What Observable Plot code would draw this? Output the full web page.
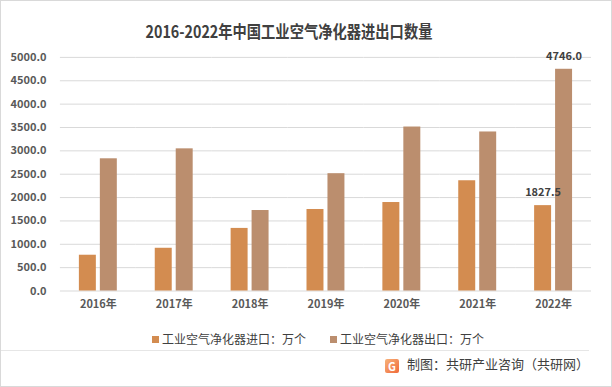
<!DOCTYPE html>
<html>
<head>
<meta charset="utf-8">
<script src="https://cdn.jsdelivr.net/npm/d3@7"></script>
<script src="https://cdn.jsdelivr.net/npm/@observablehq/plot@0.6"></script>
<style>
  html, body { margin: 0; padding: 0; background: #fff; }
  #wrap { position: relative; width: 612px; height: 387px; box-sizing: border-box; border: 1px solid #d9d9d9; overflow: hidden; font-family: "Noto Sans CJK SC", "Noto Sans", sans-serif; }
  #chart { position: absolute; left: -1px; top: -1px; }
  #title { position: absolute; left: 0; width: 576px; top: 17px; text-align: center; font-size: 17px; font-weight: bold; color: #404040; line-height: 26px; transform: scaleX(0.84); transform-origin: 288px 0; white-space: nowrap; }
  #legend { position: absolute; left: 0; width: 634px; top: 329px; text-align: center; font-size: 12px; color: #404040; line-height: 18px; white-space: nowrap; }
  .item { display: inline-block; margin: 0 12px; }
  .sw { display: inline-block; width: 7px; height: 7px; margin-right: 3px; vertical-align: 1px; }
  #sep { position: absolute; left: 0; width: 588px; top: 349px; border-top: 1px solid #e6e6e6; }
  #caption { position: absolute; right: 22px; top: 354px; font-size: 13px; color: #404040; line-height: 18px; white-space: nowrap; }
  .logo { display: inline-block; width: 14px; height: 14px; border-radius: 2px; background: linear-gradient(135deg, #f7b27a, #f06a3a); color: #fff; font-size: 11px; font-weight: bold; line-height: 14px; text-align: center; vertical-align: -2px; margin-right: 8px; }
</style>
</head>
<body>
<div id="wrap">
  <div id="chart"></div>
  <div id="title">2016-2022年中国工业空气净化器进出口数量</div>
  <div id="legend"></div>
  <div id="sep"></div>
  <div id="caption"><span class="logo">G</span>制图：共研产业咨询（共研网）</div>
</div>
<script>
const years = ["2016年", "2017年", "2018年", "2019年", "2020年", "2021年", "2022年"];
const seriesNames = ["工业空气净化器进口：万个", "工业空气净化器出口：万个"];
const importValues = [766, 915, 1340, 1745, 1894, 2360, 1827.5];
const exportValues = [2830, 3043, 1723, 2511, 3510, 3404, 4746.0];
const colors = ["#D38C50", "#BB8E6E"];
const yTicks = [0, 500, 1000, 1500, 2000, 2500, 3000, 3500, 4000, 4500, 5000];
const labeledYear = "2022年";

const data = [];
years.forEach((y, i) => {
  data.push({year: y, series: seriesNames[0], value: importValues[i]});
  data.push({year: y, series: seriesNames[1], value: exportValues[i]});
});
const labelData = data.filter(d => d.year === labeledYear);

const chart = Plot.plot({
  width: 612,
  height: 320,
  marginTop: 57,
  marginBottom: 29,
  marginLeft: 57,
  marginRight: 18,
  style: {fontFamily: '"Noto Sans CJK SC", "Noto Sans", sans-serif', background: "transparent"},
  fx: {domain: years, padding: 0, label: null, axis: null},
  x: {domain: seriesNames, paddingInner: 0.18, paddingOuter: 0.84, axis: null},
  y: {domain: [0, 5000], label: null, axis: null},
  color: {domain: seriesNames, range: colors},
  marks: [
    Plot.gridY(yTicks, {stroke: "#d9d9d9", strokeOpacity: 1, strokeWidth: 1}),
    Plot.axisY(yTicks, {tickSize: 0, tickPadding: 14, tickFormat: d => d.toFixed(1), fontSize: 11, fontWeight: "bold", fill: "#595959", label: null}),
    Plot.axisFx({anchor: "bottom", tickSize: 0, tickPadding: 9, fontSize: 11, fontWeight: "bold", fill: "#595959", label: null}),
    Plot.barY(data, {fx: "year", x: "series", y: "value", fill: "series"}),
    Plot.text(labelData, {fx: "year", x: "series", y: "value", text: d => d.value.toFixed(1), dy: -13, fontSize: 11, fontWeight: "bold", fill: "#404040"})
  ]
});
document.getElementById("chart").appendChild(chart);

const legend = document.getElementById("legend");
seriesNames.forEach((s, i) => {
  const item = document.createElement("span");
  item.className = "item";
  const sw = document.createElement("span");
  sw.className = "sw";
  sw.style.background = colors[i];
  item.appendChild(sw);
  item.appendChild(document.createTextNode(s));
  legend.appendChild(item);
});
</script>
</body>
</html>
